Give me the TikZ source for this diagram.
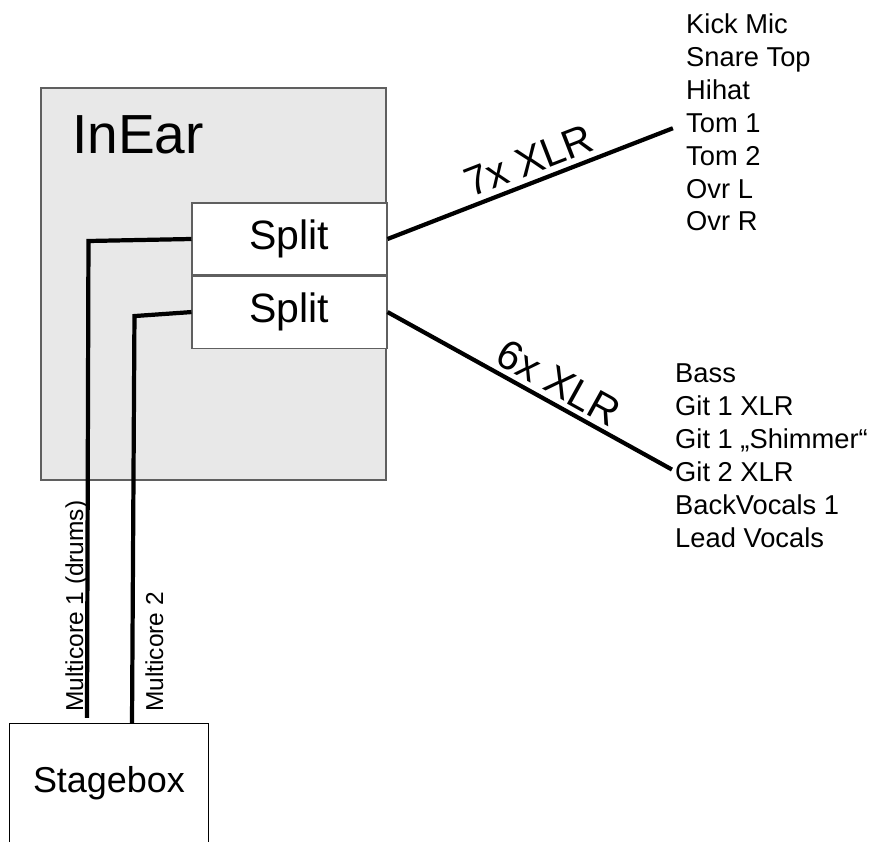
\documentclass[tikz,border=0pt]{standalone}
\usepackage{fontspec}
\setmainfont{Liberation Sans}
\usetikzlibrary{positioning}
\definecolor{rackgray}{RGB}{232,232,232}
\definecolor{edgegray}{RGB}{95,95,95}

\begin{document}
\begin{tikzpicture}[x=0.03cm, y=-0.03cm,
        cable/.style={line width=3.6pt, black},
        splitbox/.style={draw=edgegray, line width=0.9pt, fill=white,
            minimum width=5.85cm, minimum height=2.16cm, inner sep=0pt,
            font=\fontsize{35}{40}\selectfont},
        item/.style={anchor=base west, inner sep=0pt,
            font=\fontsize{23.3}{28}\selectfont},
        xlr/.style={midway, sloped, above, inner sep=5pt,
            font=\fontsize{35}{40}\selectfont},
        core/.style={rotate=90, anchor=base, inner sep=0pt,
            font=\fontsize{20.9}{25}\selectfont}]
    \useasboundingbox (0,0) rectangle (872,842);

    % InEar rack
    \node[draw=edgegray, line width=0.9pt, fill=rackgray,
        minimum width=10.35cm, minimum height=11.76cm] (inear) at (213.5,284) {};
    \node[anchor=base west, inner sep=0pt, font=\fontsize{47}{52}\selectfont]
        (inearlabel) at (72,153) {InEar};

    % Splitters
    \node[splitbox] (split1) at (289.5,239) {Split};
    \node[splitbox, below=0pt of split1] (split2) {Split};

    % Stagebox (cut off at the bottom)
    \node[minimum width=5.94cm, minimum height=3.54cm,
        font=\fontsize{30.7}{36}\selectfont] (stagebox) at (109,783) {Stagebox};
    \draw[line width=0.8pt] (stagebox.south west) -- (stagebox.north west)
        -- (stagebox.north east) -- (stagebox.south east);

    % Drum channels
    \foreach \i/\txt in {1/Kick Mic, 2/Snare Top, 3/Hihat, 4/Tom 1, 5/Tom 2, 6/Ovr L, 7/Ovr R} {
        \node[item] (drum\i) at (686, {34+32.8*(\i-1)}) {\txt};
    }

    % Band channels
    \foreach \i/\txt in {1/Bass, 2/Git 1 XLR, 3/Git 1 „Shimmer“, 4/Git 2 XLR, 5/BackVocals 1, 6/Lead Vocals} {
        \node[item] (band\i) at (675, {382+33*(\i-1)}) {\txt};
    }

    % XLR runs
    \draw[cable, shorten >=12pt] (split1.east) -- node[xlr, pos=0.5] {7x XLR} (drum4.west);
    \draw[cable, shorten >=3pt] (split2.east) -- node[xlr, pos=0.56, inner sep=4pt] {6x XLR} (band4.west);

    % Multicores
    \draw[cable] (split1.west) -- ++(-103,2) -- ([xshift=-0.66cm, yshift=0.18cm]stagebox.north);
    \draw[cable] (split2.west) -- ++(-57,4) -- ([xshift=0.69cm]stagebox.north);
    \node[core] (core1) at (83,606) {Multicore 1 (drums)};
    \node[core] (core2) at (163,652) {Multicore 2};
\end{tikzpicture}
\end{document}
